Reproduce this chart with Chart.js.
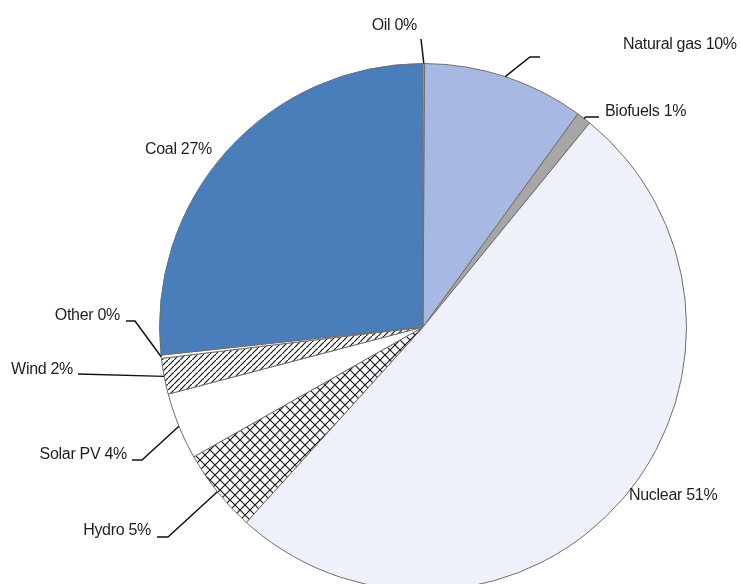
<!DOCTYPE html>
<html>
<head>
<meta charset="utf-8">
<script src="https://cdn.jsdelivr.net/npm/chart.js@4"></script>
<style>
  html, body { margin: 0; padding: 0; background: #ffffff; overflow: hidden; }
  #wrap { position: relative; width: 741px; height: 600px; }
</style>
</head>
<body>
<div id="wrap"><canvas id="mix"></canvas></div>
<script>
// Generation mix, clockwise from the top
const SOURCES = ["Oil", "Natural gas", "Biofuels", "Nuclear", "Hydro", "Solar PV", "Wind", "Other", "Coal"];
const SHARES = [0.1, 9.9, 0.9, 50.8, 5.1, 4.1, 2.2, 0.2, 26.7];
const LABELS = ["Oil 0%", "Natural gas 10%", "Biofuels 1%", "Nuclear 51%", "Hydro 5%", "Solar PV 4%", "Wind 2%", "Other 0%", "Coal 27%"];

// where each label text sits, and the bend of its leader line (null = no line)
const LABEL_POS = [
  { x: 417, y: 26, align: "right", path: [[421, 39]] },
  { x: 623, y: 45, align: "left", path: [[530, 57], [540, 57]] },
  { x: 605, y: 112, align: "left", path: [[586, 117], [599, 117]] },
  { x: 629, y: 496, align: "left", path: null },
  { x: 151, y: 531, align: "right", path: [[168, 537], [157, 537]] },
  { x: 127, y: 455, align: "right", path: [[142, 460], [132, 460]] },
  { x: 73, y: 370, align: "right", path: [[78, 374]] },
  { x: 120, y: 316, align: "right", path: [[135, 321], [126, 321]] },
  { x: 145, y: 150, align: "left", path: null },
];

function stripes(size, both) {
  const c = document.createElement("canvas");
  c.width = size;
  c.height = size;
  const g = c.getContext("2d");
  g.fillStyle = "#ffffff";
  g.fillRect(0, 0, size, size);
  g.strokeStyle = "#1a1a1a";
  g.lineWidth = 1.2;
  g.beginPath();
  g.moveTo(-1, size + 1);
  g.lineTo(size + 1, -1);
  if (both) {
    g.moveTo(-1, -1);
    g.lineTo(size + 1, size + 1);
  }
  g.stroke();
  return g.createPattern(c, "repeat");
}

const COLORS = [
  "#ffffff",
  "#a7b9e3",
  "#a6a6a6",
  "#eef1f9",
  stripes(10, true),
  "#ffffff",
  stripes(6, false),
  "#ffffff",
  "#4a7ebb",
];

const labelPlugin = {
  id: "leaderLabels",
  afterDraw(chart) {
    const ctx = chart.ctx;
    const arcs = chart.getDatasetMeta(0).data;
    ctx.save();
    ctx.font = "16px 'Liberation Sans', Arial, sans-serif";
    ctx.letterSpacing = "-0.3px";
    ctx.fillStyle = "#1e1e1e";
    ctx.textBaseline = "middle";
    ctx.strokeStyle = "#111111";
    ctx.lineWidth = 1.5;
    LABELS.forEach((text, i) => {
      const pos = LABEL_POS[i];
      const arc = arcs[i];
      if (pos.path) {
        const mid = (arc.startAngle + arc.endAngle) / 2;
        const r = arc.outerRadius;
        ctx.beginPath();
        ctx.moveTo(arc.x + Math.cos(mid) * r, arc.y + Math.sin(mid) * r);
        pos.path.forEach((p) => ctx.lineTo(p[0], p[1]));
        ctx.stroke();
      }
      ctx.textAlign = pos.align;
      ctx.fillText(text, pos.x, pos.y);
    });
    ctx.restore();
  },
};

new Chart(document.getElementById("mix"), {
  type: "pie",
  data: {
    labels: SOURCES,
    datasets: [
      {
        data: SHARES,
        backgroundColor: COLORS,
        borderColor: "#6e6e6e",
        borderWidth: 1,
      },
    ],
  },
  options: {
    responsive: true,
    maintainAspectRatio: false,
    animation: false,
    layout: { padding: { top: 63, bottom: 9, left: 159, right: 54 } },
    plugins: {
      legend: { display: false },
      tooltip: { enabled: false },
    },
  },
  plugins: [labelPlugin],
});
</script>
</body>
</html>
